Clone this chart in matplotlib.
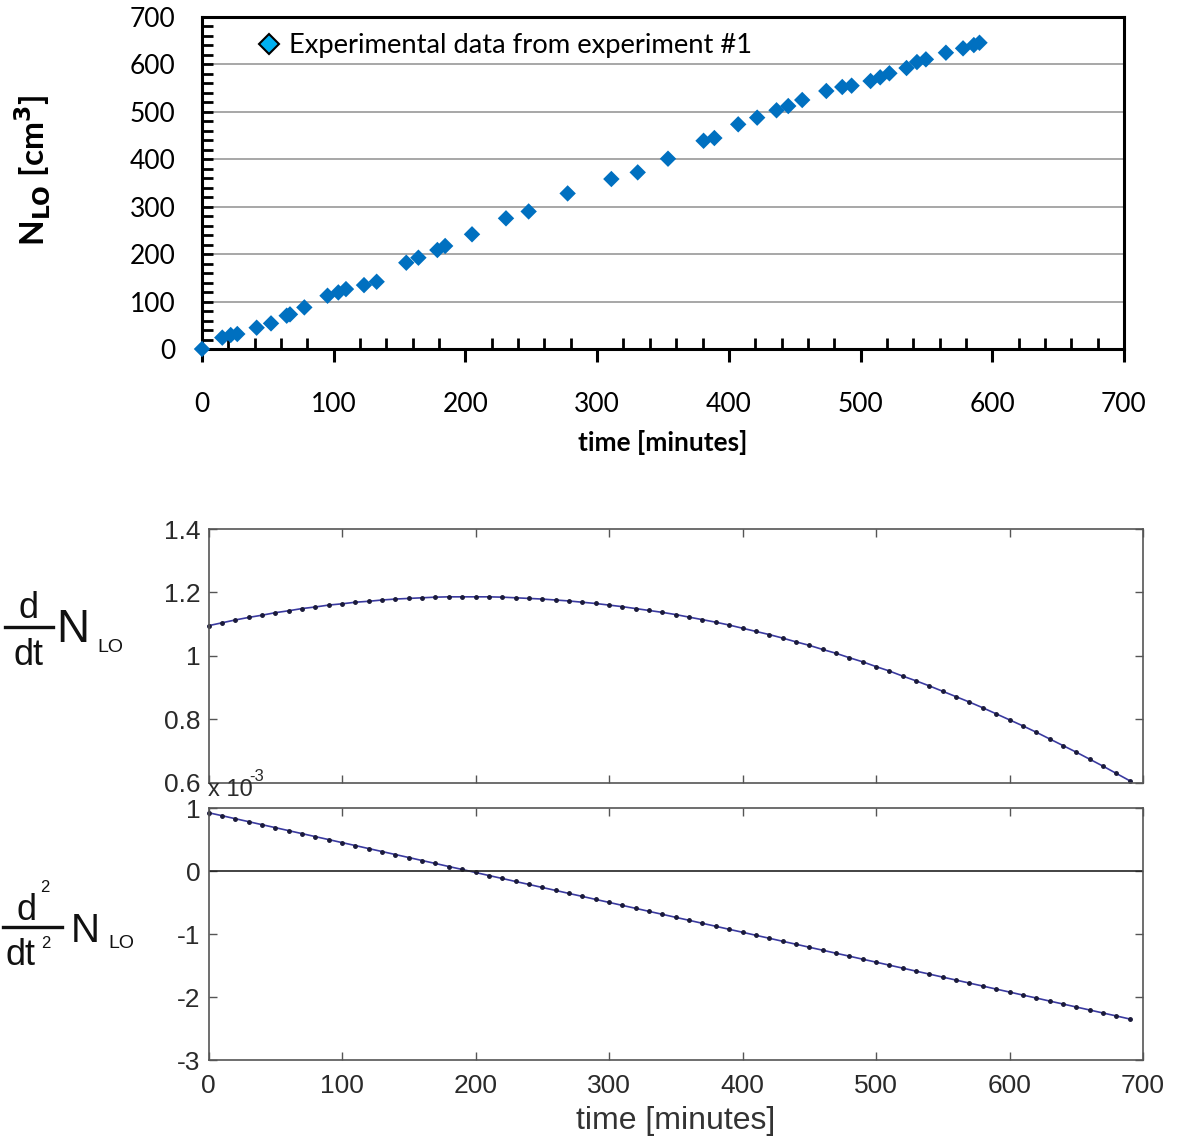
import matplotlib
matplotlib.use("Agg")
import matplotlib.pyplot as plt
from matplotlib.lines import Line2D
from matplotlib.ticker import MultipleLocator

# ---------------- data ----------------
exp_time = [0, 15.4, 21.8, 26.8, 41.5, 52.4, 64.3, 66.8, 77.7, 95.3, 103.5, 109.3,
            123.0, 132.6, 155.1, 164.3, 178.7, 184.6, 205.0, 230.8, 248.0, 277.6,
            310.8, 330.8, 353.8, 380.8, 389.0, 407.1, 421.5, 436.2, 445.1, 455.7,
            474.0, 486.1, 493.2, 507.6, 514.9, 521.9, 534.9, 542.8, 549.6, 564.8,
            577.8, 586.0, 590.3]
exp_nlo = [0, 24, 29.5, 31.6, 44.9, 54, 70.2, 73, 87.7, 112.3, 119.3, 126.3,
           134.7, 141.8, 181.9, 192.5, 208.7, 217.2, 241.8, 275.5, 290, 328,
           358.4, 372.4, 401.2, 439, 444.8, 473.7, 487.8, 503.3, 512.3, 525,
           544, 552.4, 555.2, 565, 572.8, 581.3, 592.4, 605, 610.7, 624.7,
           633.9, 640.8, 645.7]

fit_time = [0, 10, 20, 30, 40, 50, 60, 70, 80, 90, 100, 110, 120, 130, 140, 150,
            160, 170, 180, 190, 200, 210, 220, 230, 240, 250, 260, 270, 280, 290,
            300, 310, 320, 330, 340, 350, 360, 370, 380, 390, 400, 410, 420, 430,
            440, 450, 460, 470, 480, 490, 500, 510, 520, 530, 540, 550, 560, 570,
            580, 590, 600, 610, 620, 630, 640, 650, 660, 670, 680, 690]
d1_nlo = [1.095, 1.104, 1.113, 1.121, 1.128, 1.136, 1.142, 1.149, 1.154, 1.160,
          1.164, 1.169, 1.172, 1.176, 1.179, 1.181, 1.183, 1.185, 1.186, 1.186,
          1.186, 1.186, 1.185, 1.183, 1.181, 1.179, 1.176, 1.173, 1.169, 1.165,
          1.160, 1.155, 1.149, 1.143, 1.137, 1.130, 1.122, 1.114, 1.106, 1.097,
          1.087, 1.077, 1.067, 1.056, 1.044, 1.033, 1.020, 1.008, 0.994, 0.981,
          0.966, 0.952, 0.936, 0.921, 0.905, 0.888, 0.871, 0.854, 0.836, 0.817,
          0.798, 0.779, 0.759, 0.738, 0.717, 0.696, 0.674, 0.652, 0.629, 0.606]
d2_nlo_e3 = [0.930, 0.883, 0.835, 0.788, 0.740, 0.693, 0.645, 0.598, 0.550, 0.503,
             0.455, 0.408, 0.360, 0.313, 0.265, 0.218, 0.170, 0.123, 0.075, 0.028,
             -0.020, -0.068, -0.115, -0.163, -0.210, -0.258, -0.305, -0.353, -0.400, -0.448,
             -0.495, -0.543, -0.590, -0.638, -0.685, -0.733, -0.780, -0.828, -0.875, -0.923,
             -0.970, -1.018, -1.065, -1.113, -1.160, -1.208, -1.255, -1.303, -1.350, -1.398,
             -1.445, -1.493, -1.540, -1.588, -1.635, -1.683, -1.730, -1.778, -1.825, -1.873,
             -1.920, -1.968, -2.015, -2.063, -2.110, -2.158, -2.205, -2.253, -2.300, -2.348]

top_xticks = [0, 100, 200, 300, 400, 500, 600, 700]
top_yticks = [0, 100, 200, 300, 400, 500, 600, 700]
d1_yticks = [0.6, 0.8, 1.0, 1.2, 1.4]
d1_yticklabels = ["0.6", "0.8", "1", "1.2", "1.4"]
d2_yticks = [-3, -2, -1, 0, 1]

legend_label = "Experimental data from experiment #1"

# ---------------- style ----------------
sans = "Lato"
mfont = "Liberation Sans"
plt.rcParams["axes.unicode_minus"] = False

W, H = 1181, 1141
fig = plt.figure(figsize=(W / 100, H / 100), dpi=100)
renderer = fig.canvas.get_renderer()

def frac_rect(l, t, r, b):
    return [l / W, 1 - b / H, (r - l) / W, (b - t) / H]

def ptext(x, y, s, **kw):
    return fig.text(x / W, 1 - y / H, s, **kw)

def right_px(t):
    return t.get_window_extent(renderer=renderer).x1

def hbar(x0, x1, y, lw=2.0, color="#111111"):
    fig.add_artist(Line2D([x0 / W, x1 / W], [1 - y / H, 1 - y / H],
                          transform=fig.transFigure, lw=lw, color=color))

# ---- top (Excel-style) chart ----
ax = fig.add_axes(frac_rect(202, 17, 1124, 349))
ax.scatter(exp_time, exp_nlo, marker="D", s=70, color="#0070C0", edgecolors="none",
           zorder=3, clip_on=False)
ax.set_xlim(0, 700)
ax.set_ylim(0, 700)
ax.set_xticks(top_xticks)
ax.set_yticks(top_yticks)
ax.xaxis.set_minor_locator(MultipleLocator(20))
ax.yaxis.set_minor_locator(MultipleLocator(20))
for yv in top_yticks[1:-1]:
    ax.axhline(yv, color="#A0A0A0", lw=1.3, zorder=1)
for s in ax.spines.values():
    s.set_linewidth(2.2)
    s.set_color("black")
ax.tick_params(axis="x", which="major", direction="out", length=9, width=2.2,
               pad=22, labelsize=19, labelfontfamily=sans)
ax.tick_params(axis="x", which="minor", direction="in", length=8, width=2)
ax.tick_params(axis="y", which="both", direction="in", length=8, width=2,
               pad=19, labelsize=19, labelfontfamily=sans)
ax.set_xlabel("time [minutes]", fontsize=19, fontweight="bold", family=sans, labelpad=9)
ptext(33, 170, r"N$_{\mathbf{LO}}$ [cm$^{\mathbf{3}}$]", rotation=90,
      ha="center", va="center", fontsize=24, fontweight="bold", family=sans)
proxy = Line2D([], [], marker="D", linestyle="none", markersize=10,
               markerfacecolor="#00B0F0", markeredgecolor="black", markeredgewidth=1.5)
ax.legend([proxy], [legend_label], loc="upper left", bbox_to_anchor=(0.037, 1.0),
          frameon=False, prop={"family": sans, "size": 19.7}, handletextpad=0.12,
          handlelength=1.2, borderaxespad=0.2)

# ---- bottom (MATLAB-style) charts ----
tc = "#2a2a2a"
ax1 = fig.add_axes(frac_rect(208.5, 529, 1143, 782.6))
ax2 = fig.add_axes(frac_rect(208.5, 808.3, 1143, 1060))

for a in (ax1, ax2):
    a.set_xlim(0, 700)
    a.set_xticks(top_xticks)
    for s in a.spines.values():
        s.set_linewidth(1.2)
        s.set_color("#555555")
    a.tick_params(which="both", direction="in", top=True, right=True, length=6,
                  width=1.0, color="#555555", labelsize=19, labelcolor=tc,
                  labelfontfamily=mfont, pad=6)

ax1.plot(fit_time, d1_nlo, color="#3a3aa0", lw=1.2, marker=".", markersize=5,
         markerfacecolor="#1a1a3a", markeredgecolor="#1a1a3a", clip_on=False)
ax1.set_ylim(0.6, 1.4)
ax1.set_yticks(d1_yticks)
ax1.set_yticklabels(d1_yticklabels)
ax1.tick_params(labelbottom=False)

ax2.plot(fit_time, d2_nlo_e3, color="#3a3aa0", lw=1.2, marker=".", markersize=5,
         markerfacecolor="#1a1a3a", markeredgecolor="#1a1a3a", clip_on=False)
ax2.axhline(0, color="#222222", lw=1.2)
ax2.set_ylim(-3, 1)
ax2.set_yticks(d2_yticks)
ax2.tick_params(axis="x", pad=10)
ax2.set_xlabel("time [minutes]", fontsize=23, family=mfont, color="#333333", labelpad=6)

# exponent label "x 10^-3"
ptext(208, 796, "x 10", ha="left", va="baseline", fontsize=17, family=mfont, color=tc)
ptext(249, 781, "-3", ha="left", va="baseline", fontsize=12, family=mfont, color=tc)

# y-axis labels built from pieces (d/dt N_LO and d^2/dt^2 N_LO)
lab_kw = dict(family=mfont, color="#111111", va="baseline")
# first derivative
ptext(29, 618, "d", ha="center", fontsize=26, **lab_kw)
hbar(5, 53, 627, lw=2.4)
ptext(29, 665, "dt", ha="center", fontsize=26, **lab_kw)
n1 = ptext(56, 642, "N", ha="left", fontsize=33, **lab_kw)
ptext(right_px(n1) + 8, 652, "LO", ha="left", fontsize=14, **lab_kw)
# second derivative
dnum = ptext(26, 920, "d", ha="center", fontsize=26, **lab_kw)
ptext(right_px(dnum) + 4, 892, "2", ha="left", fontsize=12, **lab_kw)
hbar(3, 62, 927, lw=2.4)
dden = ptext(6, 965, "dt", ha="left", fontsize=26, **lab_kw)
ptext(right_px(dden) + 5, 948, "2", ha="left", fontsize=12, **lab_kw)
n2 = ptext(71, 942, "N", ha="left", fontsize=29, **lab_kw)
ptext(right_px(n2) + 8, 948, "LO", ha="left", fontsize=14, **lab_kw)

fig.savefig("out.png", dpi=100)
